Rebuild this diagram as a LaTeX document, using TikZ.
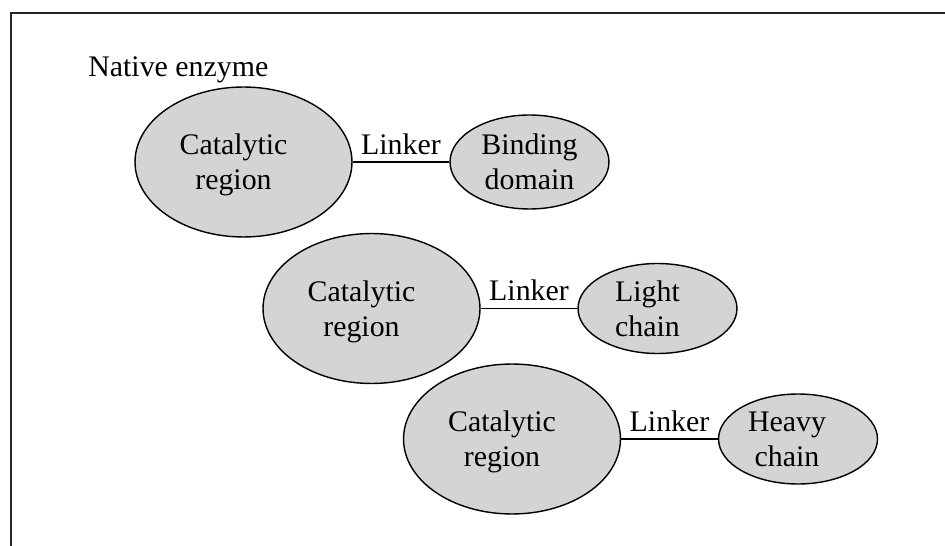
\documentclass[tikz,border=0pt]{standalone}
\usepackage{fontspec}
\setmainfont{Liberation Serif}
\usetikzlibrary{shapes.geometric}
\begin{document}
\begin{tikzpicture}[x=0.02cm,y=-0.02cm,font=\fontsize{17}{20}\selectfont]
        \tikzstyle{region}=[ellipse,draw=black,line width=0.8pt,fill=black!17,inner sep=0pt,minimum width=4.34cm,minimum height=3cm]
        \tikzstyle{part}=[region,minimum width=3.18cm,minimum height=1.8cm]
        \tikzstyle{words}=[align=center,inner sep=0pt]
        \tikzstyle{edge}=[draw, line width=0.6pt]
       \useasboundingbox (0,0) rectangle (945,546);
       \draw[line width=0.8pt,black!85] (11,546) -- (11,13) -- (945,13);
       \node [anchor=base west,inner sep=0pt] (title) at (88,77) {Native enzyme};
       \begin{scope}
         \node [region] (cat1) at (243.5,162) {};
         \node [part,minimum height=1.88cm] (bind) at (529.5,162) {};
         \node [words] (cat1txt) at ([xshift=-0.2cm,yshift=-0.06cm]cat1) {Catalytic\\region};
         \node [words] (bindtxt) at (bind) {Binding\\domain};
         \path[edge] (cat1) edge [above] node[inner sep=4pt] {Linker} (bind);
       \end{scope}
       \begin{scope}
         \node [region] (cat2) at (371.5,308.5) {};
         \node [part] (light) at (657.5,308.5) {};
         \node [words] (cat2txt) at ([xshift=-0.2cm,yshift=-0.06cm]cat2) {Catalytic\\region};
         \node [words] (lighttxt) at ([xshift=-0.2cm]light) {Light\\chain};
         \path[edge] (cat2) edge [above] node[inner sep=4pt] {Linker} (light);
       \end{scope}
       \begin{scope}
         \node [region] (cat3) at (512,439) {};
         \node [part] (heavy) at (798,439) {};
         \node [words] (cat3txt) at ([xshift=-0.2cm,yshift=-0.06cm]cat3) {Catalytic\\region};
         \node [words] (heavytxt) at ([xshift=-0.22cm]heavy) {Heavy\\chain};
         \path[edge] (cat3) edge [above] node[inner sep=4pt] {Linker} (heavy);
       \end{scope}
\end{tikzpicture}
\end{document}
